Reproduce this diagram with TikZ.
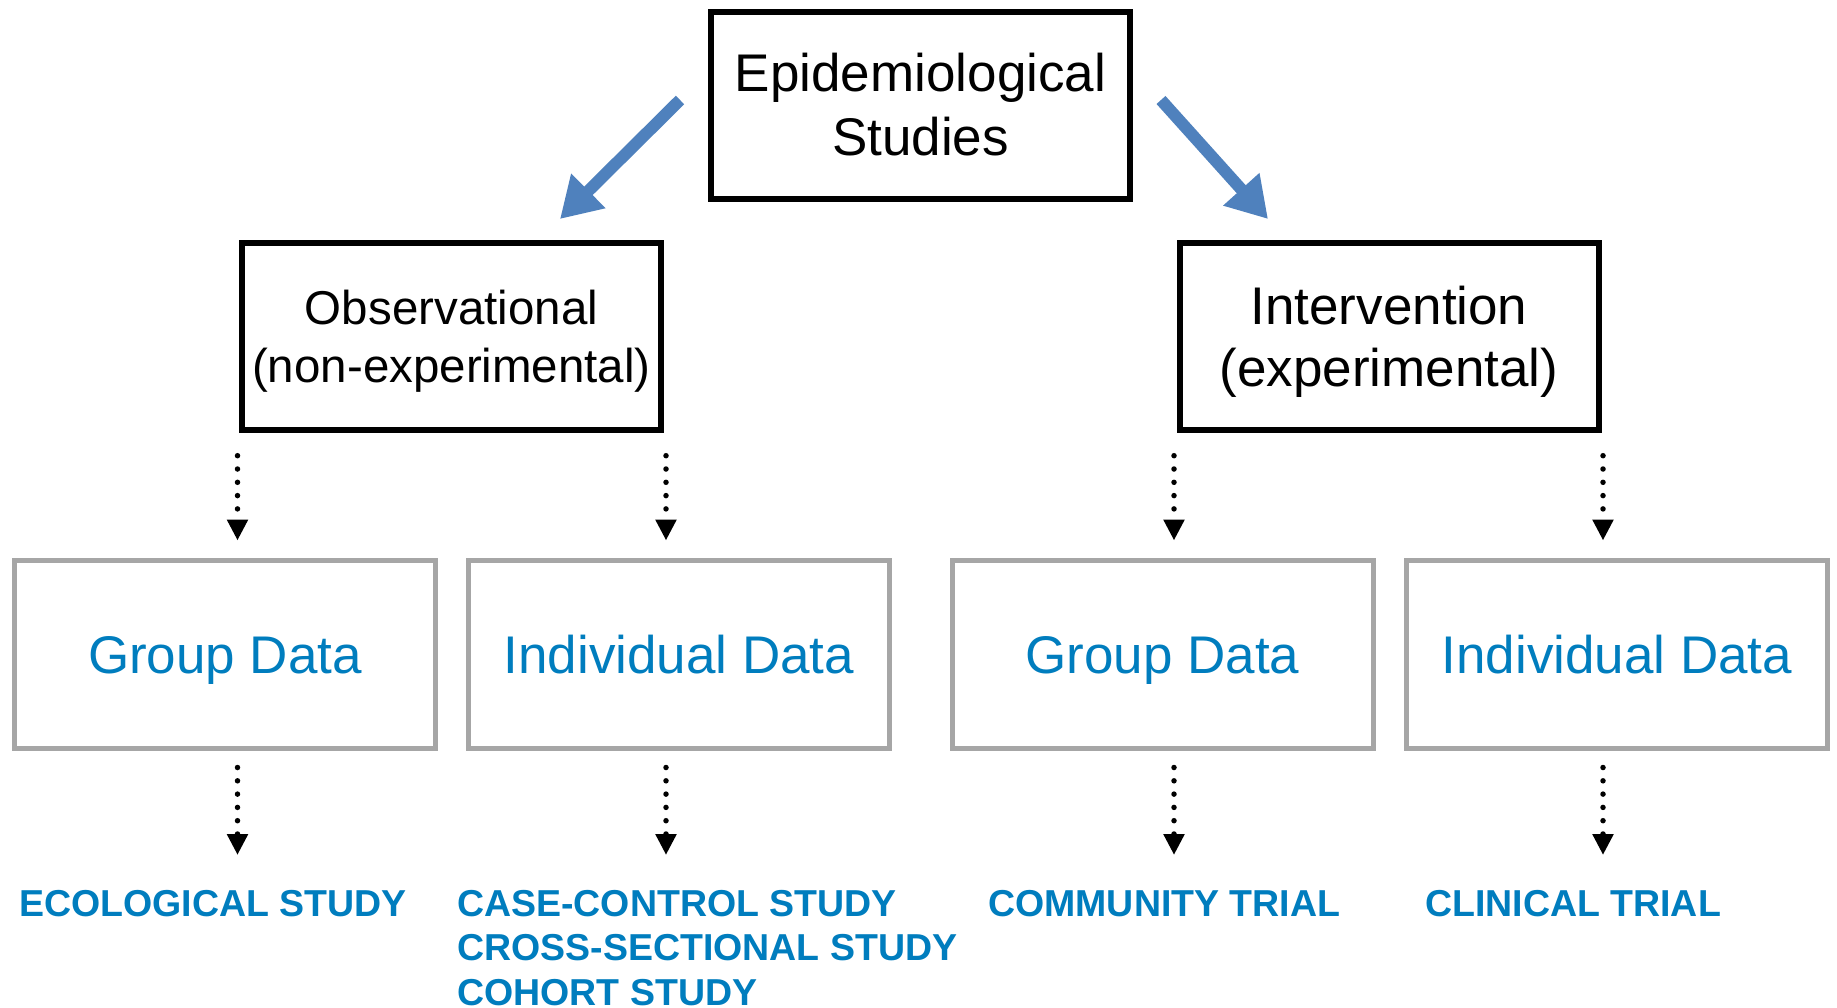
\documentclass[tikz,border=0pt]{standalone}
\usepackage{fontspec}
\setmainfont{Liberation Sans}
\usetikzlibrary{arrows.meta}
\definecolor{dblue}{RGB}{0,125,190}
\definecolor{arrblue}{RGB}{79,129,189}
\definecolor{gbox}{RGB}{166,166,166}
\begin{document}
\begin{tikzpicture}[x=1pt,y=-1pt,
  topbox/.style={draw=black,line width=6pt,minimum width=419pt,minimum height=187pt,align=center,inner sep=0pt},
  databox/.style={draw=gbox,line width=5pt,minimum width=421pt,minimum height=188pt,text=dblue,inner sep=0pt,text depth=0pt,font=\fontsize{53}{64}\selectfont},
  studylbl/.style={anchor=north west,align=left,text=dblue,inner sep=0pt,font=\fontsize{37.5}{44.5}\selectfont\bfseries},
  dotarrow/.style={line width=5.5pt,dash pattern=on 0pt off 13.3pt,line cap=round,-{Triangle[length=21pt,width=20pt]}},
  bigarrow/.style={line width=12pt,arrblue,-{Triangle[length=40pt,width=46pt]}}]
\useasboundingbox[fill=white] (0,0) rectangle (1837,1007);

\node[topbox,font=\fontsize{53}{64}\selectfont] (epi) at (920.5,105) {Epidemiological\\Studies};
\node[topbox,font=\fontsize{47.5}{57.5}\selectfont,text depth=-6pt] (obs) at (451.5,336.5) {Observational\\(non-experimental)};
\node[topbox,font=\fontsize{53}{62}\selectfont,text depth=-3pt] (int) at (1389,336.5) {Intervention\\(experimental)};

\node[databox] (g1) at (225,654.5) {Group Data};
\node[databox] (i1) at (679,654.5) {Individual Data};
\node[databox] (g2) at (1162.5,654.5) {Group Data};
\node[databox] (i2) at (1617,654.5) {Individual Data};

\node[studylbl] (eco) at (19,890) {ECOLOGICAL STUDY};
\node[studylbl] (cc) at (457,890) {CASE-CONTROL STUDY\\CROSS-SECTIONAL STUDY\\COHORT STUDY};
\node[studylbl] (com) at (988,890) {COMMUNITY TRIAL};
\node[studylbl] (cli) at (1425,890) {CLINICAL TRIAL};

\coordinate (a1s) at (680,100);
\coordinate (a1e) at (560,219);
\coordinate (a2s) at (1161,100);
\coordinate (a2e) at (1268,219);
\draw[bigarrow] (a1s) -- (a1e);
\draw[bigarrow] (a2s) -- (a2e);

% upper dotted arrows
\draw[dotarrow,shorten >=17.5pt] ([xshift=-1.5pt,yshift=-22.7pt]obs.south west) -- ([xshift=-1.5pt]obs.south west |- g1.north);
\draw[dotarrow,shorten >=17.5pt] ([xshift=2pt,yshift=-22.7pt]obs.south east) -- ([xshift=2pt]obs.south east |- i1.north);
\draw[dotarrow,shorten >=17.5pt] ([xshift=-2.5pt,yshift=-22.7pt]int.south west) -- ([xshift=-2.5pt]int.south west |- g2.north);
\draw[dotarrow,shorten >=17.5pt] ([xshift=1.5pt,yshift=-22.7pt]int.south east) -- ([xshift=1.5pt]int.south east |- i2.north);

% lower dotted arrows
\draw[dotarrow,shorten >=35pt] ([xshift=-1.5pt,yshift=-16.5pt]obs.south west |- g1.south) -- ([xshift=-1.5pt]obs.south west |- eco.north);
\draw[dotarrow,shorten >=35pt] ([xshift=2pt,yshift=-16.5pt]obs.south east |- i1.south) -- ([xshift=2pt]obs.south east |- cc.north);
\draw[dotarrow,shorten >=35pt] ([xshift=-2.5pt,yshift=-16.5pt]int.south west |- g2.south) -- ([xshift=-2.5pt]int.south west |- com.north);
\draw[dotarrow,shorten >=35pt] ([xshift=1.5pt,yshift=-16.5pt]int.south east |- i2.south) -- ([xshift=1.5pt]int.south east |- cli.north);
\end{tikzpicture}
\end{document}
